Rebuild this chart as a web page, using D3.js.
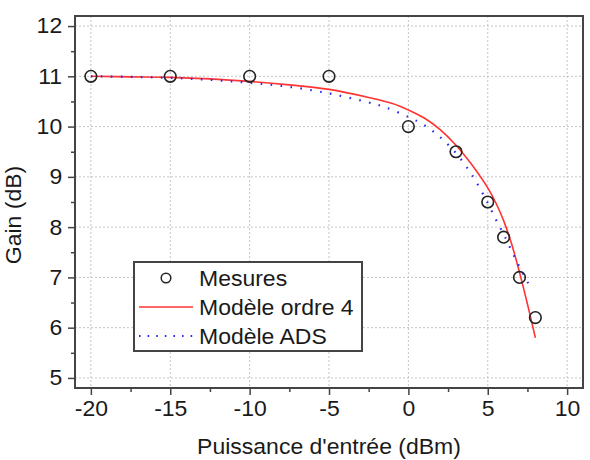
<!DOCTYPE html>
<html><head><meta charset="utf-8">
<script src="https://cdn.jsdelivr.net/npm/d3@7"></script>
<style>
html,body{margin:0;padding:0;background:#fff;}
svg{display:block;font-family:"Liberation Sans",Arial,Helvetica,sans-serif;}
</style></head>
<body><svg id="c" width="590" height="460"></svg>
<script>
// ---- data ----
const measX = [-20, -15, -10, -5, 0, 3, 5, 6, 7, 8];
const measY = [11, 11, 11, 11, 10, 9.5, 8.5, 7.8, 7.0, 6.2];
const order4X = [-20, -17.5, -15, -12.5, -10, -7.5, -5, -2.5, -1, 0, 1, 2, 3, 4, 5, 5.5, 6, 6.5, 7, 7.5, 8];
const order4Y = [11.00, 10.99, 10.98, 10.95, 10.90, 10.83, 10.74, 10.58, 10.46, 10.33, 10.17, 9.94, 9.63, 9.24, 8.78, 8.49, 8.13, 7.67, 7.10, 6.47, 5.80];
const adsX = [-20, -17.5, -15, -12.5, -10, -7.5, -5, -2.5, -1.5, 0, 1, 2, 3, 4, 5, 5.5, 6, 6.5, 7, 7.5, 7.8];
const adsY = [11.00, 10.99, 10.97, 10.93, 10.87, 10.79, 10.66, 10.48, 10.39, 10.19, 10.03, 9.79, 9.47, 9.04, 8.48, 8.16, 7.86, 7.53, 7.21, 6.91, 6.73];
const xTicks = [-20, -15, -10, -5, 0, 5, 10];
const xTickLabels = ["-20", "-15", "-10", "-5", "0", "5", "10"];
const xMinor = [-17.5, -12.5, -7.5, -2.5, 2.5, 7.5];
const yTicks = [5, 6, 7, 8, 9, 10, 11, 12];
const yTickLabels = ["5", "6", "7", "8", "9", "10", "11", "12"];
const yMinor = [5.5, 6.5, 7.5, 8.5, 9.5, 10.5, 11.5];
const seriesNames = ["Mesures", "Modèle ordre 4", "Modèle ADS"];
const xTitle = "Puissance d'entrée (dBm)";
const yTitle = "Gain (dB)";

// ---- layout ----
const L = 75, T = 16, R = 583, B = 388;
const svg = d3.select("#c");
const x = d3.scaleLinear().domain([-21, 11]).range([L, R]);
const y = d3.scaleLinear().domain([4.8, 12.2]).range([B, T]);
const txt = "#1a1a1a", frame = "#444";
const fs = 21.5, sx = 1.07;

// grid
const grid = svg.append("g");
grid.selectAll("line.gx").data(xTicks).join("line")
  .attr("x1", d => x(d)).attr("x2", d => x(d)).attr("y1", T).attr("y2", B)
  .attr("stroke", "#c4c4c4").attr("stroke-width", 1).attr("stroke-dasharray", "2,2");
grid.selectAll("line.gy").data(yTicks).join("line")
  .attr("x1", L).attr("x2", R).attr("y1", d => y(d)).attr("y2", d => y(d))
  .attr("stroke", "#c4c4c4").attr("stroke-width", 1).attr("stroke-dasharray", "2,2");

// axes
const xAx = svg.append("g").attr("transform", `translate(0,${B})`)
  .call(d3.axisBottom(x).tickValues(xTicks).tickSize(7).tickPadding(6)
    .tickFormat((d, i) => xTickLabels[i]));
const xAxM = svg.append("g").attr("transform", `translate(0,${B})`)
  .call(d3.axisBottom(x).tickValues(xMinor).tickSize(4).tickFormat(""));
const yAx = svg.append("g").attr("transform", `translate(${L},0)`)
  .call(d3.axisLeft(y).tickValues(yTicks).tickSize(7).tickPadding(5)
    .tickFormat((d, i) => yTickLabels[i]));
const yAxM = svg.append("g").attr("transform", `translate(${L},0)`)
  .call(d3.axisLeft(y).tickValues(yMinor).tickSize(4).tickFormat(""));
[xAx, xAxM, yAx, yAxM].forEach(g => {
  g.select(".domain").remove();
  g.selectAll(".tick line").attr("stroke", frame).attr("stroke-width", 1.5);
  g.selectAll(".tick text").attr("fill", txt).attr("font-size", fs)
    .attr("font-family", "'Liberation Sans',Arial,sans-serif")
    .attr("transform", `scale(${sx},1)`);
});

// frame
svg.append("rect").attr("x", L).attr("y", T).attr("width", R - L).attr("height", B - T)
  .attr("fill", "none").attr("stroke", frame).attr("stroke-width", 2);

// titles
svg.append("text").attr("transform", `translate(${(L + R) / 2},454) scale(${sx},1)`)
  .attr("text-anchor", "middle").attr("font-size", fs).attr("fill", txt).text(xTitle);
svg.append("text").attr("transform", `translate(21,${(T + B) / 2 + 13}) rotate(-90) scale(${sx},1)`)
  .attr("text-anchor", "middle").attr("font-size", fs).attr("fill", txt).text(yTitle);

// curves
const line = d3.line().x(d => x(d[0])).y(d => y(d[1])).curve(d3.curveCatmullRom.alpha(0.5));
const order4 = order4X.map((v, i) => [v, order4Y[i]]);
const ads = adsX.map((v, i) => [v, adsY[i]]);
svg.append("path").datum(order4).attr("d", line).attr("fill", "none")
  .attr("stroke", "#ff3333").attr("stroke-width", 1.6);
svg.append("path").datum(ads).attr("d", line).attr("fill", "none")
  .attr("stroke", "#2a2af0").attr("stroke-width", 2.2)
  .attr("stroke-dasharray", "1.6,8.4").attr("stroke-linecap", "butt");

// measured points
svg.append("g").selectAll("circle").data(measX.map((v, i) => [v, measY[i]])).join("circle")
  .attr("cx", d => x(d[0])).attr("cy", d => y(d[1])).attr("r", 5.8)
  .attr("fill", "none").attr("stroke", "#222").attr("stroke-width", 1.6);

// legend
const lg = svg.append("g");
lg.append("rect").attr("x", 134).attr("y", 262).attr("width", 228).attr("height", 89)
  .attr("fill", "#fff").attr("stroke", frame).attr("stroke-width", 2);
const rowY = [278, 307, 336];
lg.append("circle").attr("cx", 166).attr("cy", rowY[0]).attr("r", 4.8)
  .attr("fill", "none").attr("stroke", "#222").attr("stroke-width", 1.5);
lg.append("line").attr("x1", 139).attr("x2", 193).attr("y1", rowY[1]).attr("y2", rowY[1])
  .attr("stroke", "#ff3333").attr("stroke-width", 1.6);
lg.append("line").attr("x1", 139).attr("x2", 193).attr("y1", rowY[2]).attr("y2", rowY[2])
  .attr("stroke", "#2a2af0").attr("stroke-width", 2).attr("stroke-dasharray", "1.6,7");
lg.selectAll("text").data(seriesNames).join("text")
  .attr("transform", (d, i) => `translate(199,${rowY[i]}) scale(${sx},1)`).attr("dy", "0.36em")
  .attr("font-size", fs).attr("fill", txt).text(d => d);
</script></body></html>
